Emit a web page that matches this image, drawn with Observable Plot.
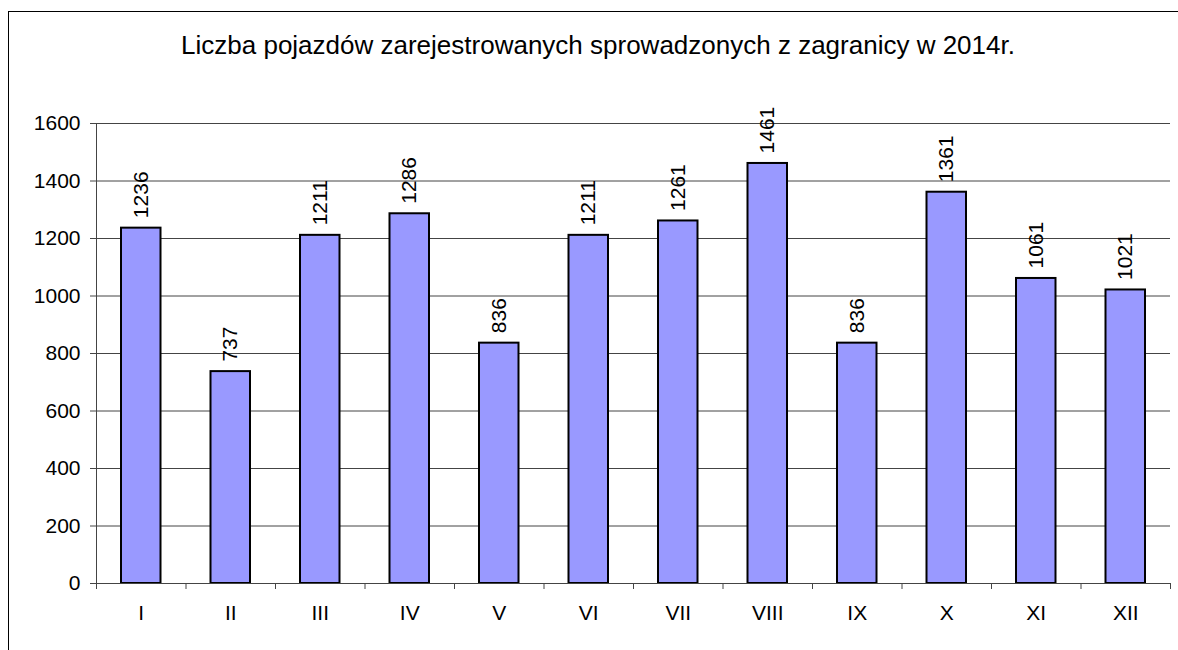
<!DOCTYPE html>
<html>
<head>
<meta charset="utf-8">
<script src="https://cdn.jsdelivr.net/npm/d3@7"></script>
<script src="https://cdn.jsdelivr.net/npm/@observablehq/plot@0.6"></script>
<style>
  html, body { margin: 0; padding: 0; background: #fff; overflow: hidden; width: 1178px; height: 650px; }
  body { position: relative; font-family: "Liberation Sans", Arial, sans-serif; }
  #frame { position: absolute; left: 8px; top: 11px; width: 1200px; height: 700px; border: 1px solid #000; box-sizing: border-box; }
  #title { position: absolute; left: 0; width: 1196px; top: 30px; text-align: center; font-size: 26px; color: #000; line-height: 30px; }
  #chart { position: absolute; left: 0; top: 0; }
</style>
</head>
<body>
<div id="frame"></div>
<div id="title">Liczba pojazdów zarejestrowanych sprowadzonych z zagranicy w 2014r.</div>
<div id="chart"></div>
<script>
const months = ["I", "II", "III", "IV", "V", "VI", "VII", "VIII", "IX", "X", "XI", "XII"];
const values = [1236, 737, 1211, 1286, 836, 1211, 1261, 1461, 836, 1361, 1061, 1021];
const yTicks = [0, 200, 400, 600, 800, 1000, 1200, 1400, 1600];

const data = months.map((m, i) => ({month: m, i, value: values[i]}));
const boundaries = d3.range(months.length + 1);
const centers = months.map((m, i) => i + 0.5);

const chart = Plot.plot({
  width: 1178,
  height: 650,
  marginLeft: 96,
  marginRight: 8,
  marginTop: 123,
  marginBottom: 67,
  style: {fontFamily: "'Liberation Sans', Arial, sans-serif", fontSize: "21px", color: "#000", background: "transparent"},
  x: {type: "linear", domain: [0, months.length], label: null},
  y: {domain: [0, 1600], label: null},
  marks: [
    Plot.gridY(yTicks, {stroke: "#444", strokeOpacity: 1, strokeWidth: 1}),
    Plot.rectY(data, {x1: "i", x2: d => d.i + 1, y: "value", fill: "#9999ff", stroke: "#000", strokeWidth: 2, insetLeft: 25, insetRight: 25}),
    Plot.ruleX([0], {stroke: "#444"}),
    Plot.ruleY([0], {stroke: "#444"}),
    Plot.axisY({ticks: yTicks, tickSize: 6, tickPadding: 10, tickFormat: d => String(d), stroke: "#444", fontSize: 21, fill: "#000", label: null}),
    Plot.axisX({ticks: boundaries, tickSize: 6, tickFormat: () => "", stroke: "#444", label: null}),
    Plot.axisX({ticks: centers, tickSize: 0, tickPadding: 22, tickFormat: d => months[Math.round(d - 0.5)], fontSize: 21, fill: "#000", label: null}),
    Plot.text(data, {x: d => d.i + 0.5, y: "value", text: d => String(d.value), rotate: -90, textAnchor: "start", lineAnchor: "middle", dy: -10, fontSize: 21, fill: "#000"})
  ]
});
document.getElementById("chart").appendChild(chart);
</script>
</body>
</html>
